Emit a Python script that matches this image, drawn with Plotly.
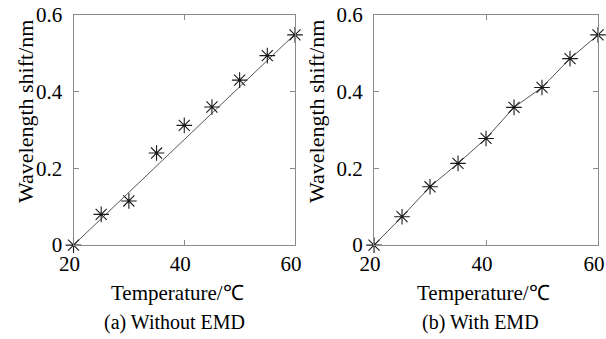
import plotly.graph_objects as go

temps = [20, 25, 30, 35, 40, 45, 50, 55, 60]
shift_without = [0.0, 0.080, 0.115, 0.240, 0.312, 0.360, 0.430, 0.494, 0.548]
fit_without_x = [20, 60]
fit_without_y = [0.0, 0.55]
shift_with = [0.0, 0.074, 0.152, 0.213, 0.278, 0.359, 0.411, 0.486, 0.548]

x_ticks = [20, 40, 60]
y_ticks = [0, 0.2, 0.4, 0.6]
y_tick_text = ["0", "0.2", "0.4", "0.6"]

FONT = "Liberation Serif"
AX = "#8a8a8a"
MK = "#1a1a1a"
LN = "#555555"

fig = go.Figure()

marker = dict(symbol="asterisk-open", size=13, color=MK, line=dict(color=MK, width=1.1))

# (a) Without EMD
fig.add_trace(go.Scatter(x=fit_without_x, y=fit_without_y, mode="lines",
                         line=dict(color=LN, width=1), xaxis="x", yaxis="y",
                         cliponaxis=False, showlegend=False))
fig.add_trace(go.Scatter(x=temps, y=shift_without, mode="markers", marker=marker,
                         xaxis="x", yaxis="y", cliponaxis=False, showlegend=False))
# (b) With EMD
fig.add_trace(go.Scatter(x=temps, y=shift_with, mode="lines",
                         line=dict(color=LN, width=1), xaxis="x2", yaxis="y2",
                         cliponaxis=False, showlegend=False))
fig.add_trace(go.Scatter(x=temps, y=shift_with, mode="markers", marker=marker,
                         xaxis="x2", yaxis="y2", cliponaxis=False, showlegend=False))

def xaxis(domain, anchor):
    return dict(domain=domain, anchor=anchor, range=[20, 60], tickvals=x_ticks,
                ticks="inside", ticklen=5, tickcolor=AX, showline=True,
                linecolor=AX, linewidth=1, mirror="ticks", showgrid=False,
                zeroline=False, ticklabelstandoff=0, automargin=False,
                ticklabeloverflow="allow", ticklabelshift=-4,
                tickfont=dict(family=FONT, size=21, color="#000"))

def yaxis(domain, anchor):
    return dict(domain=domain, anchor=anchor, range=[0, 0.6], tickvals=y_ticks,
                ticktext=y_tick_text, ticks="inside", ticklen=5, tickcolor=AX,
                showline=True, linecolor=AX, linewidth=1, mirror="ticks",
                showgrid=False, zeroline=False, ticklabelstandoff=6,
                automargin=False, ticklabeloverflow="allow",
                tickfont=dict(family=FONT, size=21, color="#000"))

ydom = [0.277, 0.956]
fig.update_layout(
    width=606, height=339,
    margin=dict(l=0, r=0, t=0, b=0, autoexpand=False),
    paper_bgcolor="white", plot_bgcolor="white",
    font=dict(family=FONT),
    xaxis=xaxis([0.1213, 0.4868], "y"),
    yaxis=yaxis(ydom, "x"),
    xaxis2=xaxis([0.6172, 0.9868], "y2"),
    yaxis2=yaxis(ydom, "x2"),
)

def ann(text, x, y, size=21, angle=0):
    fig.add_annotation(text=text, x=x / 606, y=1 - y / 339, xref="paper",
                       yref="paper", showarrow=False, textangle=angle,
                       xanchor="center", yanchor="middle",
                       font=dict(family=FONT, size=size, color="#000"))

ann("Wavelength shift/nm", 25, 112, size=22, angle=-90)
ann("Wavelength shift/nm", 316, 112, size=22, angle=-90)
ann("Temperature/℃", 177, 293)
ann("Temperature/℃", 483, 293)
ann("(a) Without EMD", 174, 322, size=20)
ann("(b) With EMD", 480, 322, size=20)

fig.write_html(
    "out.html",
    config={"displayModeBar": False},
    post_script="document.body.style.margin='0';document.body.style.overflow='hidden';",
)
